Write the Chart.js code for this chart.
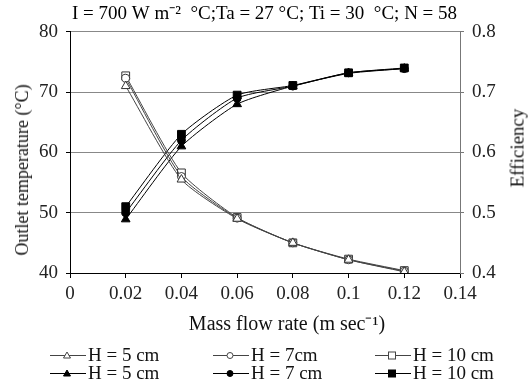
<!DOCTYPE html>
<html><head><meta charset="utf-8">
<script src="https://cdn.jsdelivr.net/npm/chart.js@4.4.0/dist/chart.umd.min.js"></script>
<style>
html,body{margin:0;padding:0;background:#fff;}
#wrap{position:relative;width:529px;height:386px;overflow:hidden;}
canvas{position:absolute;left:0;top:0;}
.lbl{position:absolute;font-family:'Liberation Serif','Times New Roman',serif;font-size:19px;color:#111;white-space:nowrap;line-height:1;}
.leg{position:absolute;height:18px;display:flex;align-items:center;}
.leg svg{display:block;}
.leg span{font-family:'Liberation Serif','Times New Roman',serif;font-size:19px;color:#111;margin-left:2px;white-space:nowrap;}
</style></head><body>
<div id="wrap">
<canvas id="c" width="529" height="386"></canvas>
<div class="lbl" id="ytl" style="left:22px;top:170px;font-size:18px;transform:translate(-50%,-50%) rotate(-90deg);"></div>
<div class="lbl" id="xtl" style="left:287px;top:323px;font-size:20px;transform:translate(-50%,-50%);"></div>
<div class="lbl" id="eff" style="left:517px;top:148px;transform:translate(-50%,-50%) rotate(-90deg);">Efficiency</div>
</div>
<script>
// ---- data ----
const massFlow = [0.02, 0.04, 0.06, 0.08, 0.1, 0.12];
const tempH5  = [71.0, 55.5, 49.0, 45.0, 42.2, 40.2];
const tempH7  = [72.3, 56.0, 49.1, 45.0, 42.2, 40.3];
const tempH10 = [72.7, 56.6, 49.2, 45.0, 42.3, 40.4];
const effH5  = [0.489, 0.610, 0.680, 0.710, 0.731, 0.739];
const effH7  = [0.500, 0.620, 0.690, 0.710, 0.732, 0.739];
const effH10 = [0.510, 0.630, 0.695, 0.711, 0.732, 0.740];
const seriesLabels = ['H = 5 cm', 'H = 7cm', 'H = 10 cm', 'H = 5 cm', 'H = 7 cm', 'H = 10 cm'];
const titleText = 'I = 700 W m\u207B\u00B2  \u00B0C;Ta = 27 \u00B0C; Ti = 30  \u00B0C; N = 58';
const xTitle = 'Mass flow rate (m sec\u207B\u00B9)';
const yTitle = 'Outlet temperature (\u00B0C)';

document.getElementById('xtl').textContent = xTitle;
document.getElementById('ytl').textContent = yTitle;

const FONT = "'Liberation Serif','Times New Roman',serif";
const FS = 19;
const pts = arr => massFlow.map((x, i) => ({x: x, y: arr[i]}));

function ds(label, arr, axis, style, filled, r) {
  return {
    label: label, data: pts(arr), yAxisID: axis,
    borderColor: filled ? '#000' : '#444', borderWidth: 1,
    pointStyle: style, pointRadius: r, pointHoverRadius: r,
    pointBackgroundColor: filled ? '#000' : '#fff',
    pointBorderColor: filled ? '#000' : '#333', pointBorderWidth: 1,
    tension: 0.2, fill: false
  };
}

const datasets = [
  ds(seriesLabels[0], tempH5, 'y', 'triangle', false, 5),
  ds(seriesLabels[1], tempH7, 'y', 'circle', false, 4),
  ds(seriesLabels[2], tempH10, 'y', 'rect', false, 5.5),
  ds(seriesLabels[3], effH5, 'y1', 'triangle', true, 5),
  ds(seriesLabels[4], effH7, 'y1', 'circle', true, 4),
  ds(seriesLabels[5], effH10, 'y1', 'rect', true, 5.5)
];

const fmt = v => String(parseFloat(Number(v).toFixed(2)));

new Chart(document.getElementById('c'), {
  type: 'line',
  data: {datasets: datasets},
  options: {
    responsive: false, animation: false,
    layout: {padding: {left: 0, right: 0, top: 0, bottom: 46}},
    plugins: {
      legend: {display: false},
      tooltip: {enabled: false},
      title: {display: true, text: titleText, color: '#000',
        font: {family: FONT, size: FS, weight: 'normal', lineHeight: 1.2},
        padding: {top: 3, bottom: 6}}
    },
    scales: {
      x: {
        type: 'linear', min: 0, max: 0.14,
        afterFit: s => { s.height = 67; },
        ticks: {stepSize: 0.02, color: '#222', padding: 5, maxRotation: 0,
          font: {family: FONT, size: FS}, callback: v => fmt(v)},
        grid: {drawOnChartArea: false, drawTicks: true, tickLength: 5, color: '#000'},
        border: {display: true, color: '#000', width: 1},
        title: {display: false}
      },
      y: {
        position: 'left', min: 40, max: 80,
        afterFit: s => { s.width = 70; },
        ticks: {stepSize: 10, color: '#222', padding: 8, font: {family: FONT, size: FS}},
        grid: {color: '#888', tickColor: '#000', tickLength: 4, lineWidth: 1},
        border: {display: true, color: '#000', width: 1},
        title: {display: false}
      },
      y1: {
        position: 'right', min: 0.4, max: 0.8,
        afterFit: s => { s.width = 69; },
        ticks: {stepSize: 0.1, color: '#222', padding: 8, font: {family: FONT, size: FS},
          callback: v => fmt(v)},
        grid: {drawOnChartArea: false, color: '#777', tickLength: 4},
        border: {display: true, color: '#777', width: 1}
      }
    }
  }
});

// ---- HTML legend ----
const legPos = [
  [50, 355], [213, 355], [375, 355],
  [50, 373], [213, 373], [375, 373]
];
const styles = ['triangle', 'circle', 'rect', 'triangle', 'circle', 'rect'];
const wrap = document.getElementById('wrap');
seriesLabels.forEach((lab, i) => {
  const filled = i >= 3;
  const fill = filled ? '#000' : '#fff';
  const stroke = filled ? '#000' : '#444';
  let mk = '';
  if (styles[i] === 'triangle') mk = `<polygon points="17,5 20.5,11 13.5,11" fill="${fill}" stroke="${stroke}" stroke-width="1"/>`;
  else if (styles[i] === 'circle') mk = `<circle cx="17" cy="8.5" r="3" fill="${fill}" stroke="${stroke}" stroke-width="1"/>`;
  else mk = `<rect x="13.5" y="5" width="7" height="7" fill="${fill}" stroke="${stroke}" stroke-width="1"/>`;
  const d = document.createElement('div');
  d.className = 'leg';
  d.style.left = legPos[i][0] + 'px';
  d.style.top = (legPos[i][1] - 9) + 'px';
  d.innerHTML = `<svg width="36" height="17"><line x1="0" y1="8.5" x2="36" y2="8.5" stroke="${stroke}" stroke-width="1"/>${mk}</svg><span>${lab}</span>`;
  wrap.appendChild(d);
});
</script>
</body></html>
